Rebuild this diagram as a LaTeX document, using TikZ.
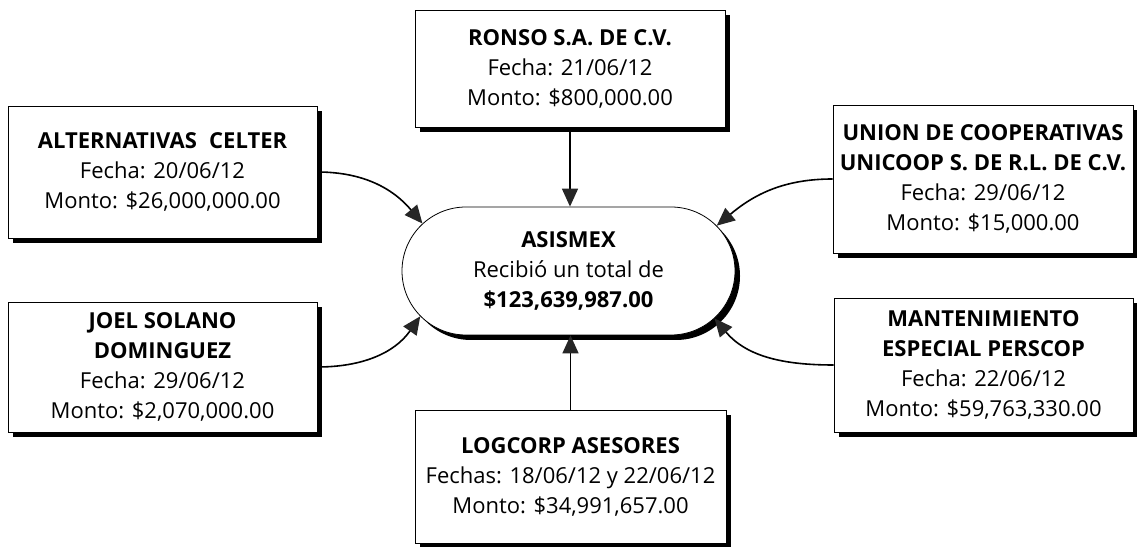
\documentclass[tikz,border=0pt]{standalone}
\usepackage{fontspec}
\setmainfont{Open Sans}
\usetikzlibrary{shapes.misc,shadows,arrows.meta}
\begin{document}
\begin{tikzpicture}[x=1pt,y=1pt,
  box/.style={draw=black, line width=0.8pt, fill=white, align=center, inner sep=0pt,
    font=\fontsize{22}{30}\selectfont,
    drop shadow={shadow xshift=5pt, shadow yshift=-5pt, fill=black, opacity=1}},
  conn/.style={line width=1.6pt, draw=black,
    -{Triangle[length=18pt,width=16pt,color=black!85]}}]
\useasboundingbox (0,0) rectangle (1137,546);

\node[box, minimum width=309pt, minimum height=132pt] (alt) at (162.5,374)
  {\textbf{ALTERNATIVAS\hspace{0.3em} CELTER}\\Fecha: 20/06/12\\Monto: \$26,000,000.00};
\node[box, minimum width=310pt, minimum height=117pt] (ronso) at (570,477.5)
  {\textbf{RONSO S.A. DE C.V.}\\Fecha: 21/06/12\\Monto: \$800,000.00};
\node[box, minimum width=300pt, minimum height=148pt] (union) at (983,367)
  {\textbf{UNION DE COOPERATIVAS}\\\textbf{UNICOOP S. DE R.L. DE C.V.}\\Fecha: 29/06/12\\Monto: \$15,000.00};
\node[box, minimum width=309pt, minimum height=130pt] (joel) at (162.5,179)
  {\textbf{JOEL SOLANO}\\\textbf{DOMINGUEZ}\\Fecha: 29/06/12\\Monto: \$2,070,000.00};
\node[box, minimum width=299pt, minimum height=134pt] (mant) at (983.5,181)
  {\textbf{MANTENIMIENTO}\\\textbf{ESPECIAL PERSCOP}\\Fecha: 22/06/12\\Monto: \$59,763,330.00};
\node[box, minimum width=311pt, minimum height=133pt] (logc) at (570.5,69.5)
  {\textbf{LOGCORP ASESORES}\\Fechas: 18/06/12 y 22/06/12\\Monto: \$34,991,657.00};
\node[box, rounded rectangle, minimum width=333pt, minimum height=128pt] (asis) at (568.5,275)
  {\textbf{ASISMEX}\\Recibió un total de\\\textbf{\$123,639,987.00}};

\draw[conn] (ronso.south) -- (ronso.south |- asis.north);
\draw[conn] (logc.north) -- (logc.north |- asis.south);
\draw[conn] (alt.east) to[out=0,in=130] (asis.162);
\draw[conn] (union.west) to[out=180,in=40] (asis.17);
\draw[conn] (joel.east) to[out=0,in=-125] (asis.197);
\draw[conn] (mant.west) to[out=180,in=-50] (asis.-18);
\end{tikzpicture}
\end{document}
